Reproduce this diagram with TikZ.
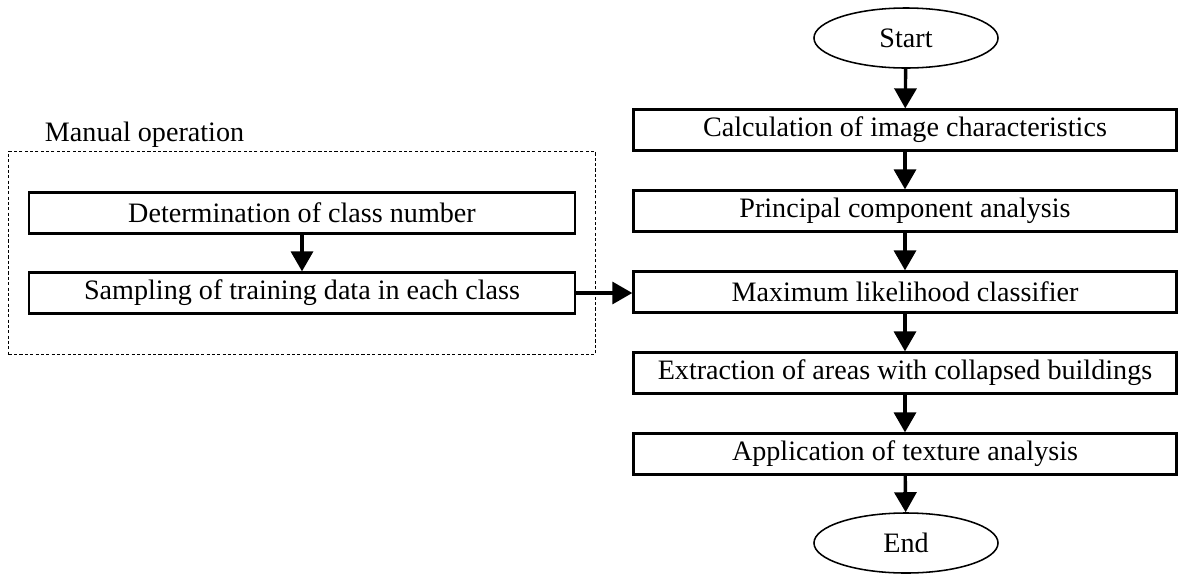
\documentclass[tikz,border=0pt]{standalone}
\usepackage{fontspec}
\setmainfont{Liberation Serif}
\usepackage{tikz}
\usetikzlibrary{positioning,arrows.meta,fit,shapes.geometric}
\tikzset{
  node-box/.style={draw=black,line width=1.6pt,minimum height=1.025cm,
    minimum width=13.575cm,inner sep=0pt,align=center},
  node-box-manual/.style={node-box,minimum width=13.65cm},
  node-term/.style={draw=black,ellipse,line width=1.1pt,
    minimum width=4.6cm,minimum height=1.5cm,inner sep=0pt},
  node-group/.style={draw=black,dashed,dash pattern=on 2.2pt off 1.6pt,
    line width=0.7pt,inner xsep=0.475cm,inner ysep=1cm},
  arrow/.style={-{Triangle[length=0.5cm,width=0.55cm]},line width=2.4pt},
}

\begin{document}
\begin{tikzpicture}[x=0.025cm,y=-0.025cm,
    every node/.style={font=\fontsize{20}{24}\selectfont}]
  \useasboundingbox (0,0) rectangle (1180,574);
  % main flow
  \node[node-term] (start) at (906,38) {Start};
  \node[node-box] (calc) at (905,130) {Calculation of image characteristics};
  \node[node-box] (pca) at (905,211) {Principal component analysis};
  \node[node-box] (mlc) at (905,292) {Maximum likelihood classifier};
  \node[node-box] (extract) at (905,373) {Extraction of areas with collapsed buildings};
  \node[node-box] (texture) at (905,454) {Application of texture analysis};
  \node[node-term] (end) at (906,543) {End};
  \foreach \a/\b in {start/calc,calc/pca,pca/mlc,mlc/extract,extract/texture,texture/end}
    \draw[arrow] (\a) -- (\b);
  % manual part
  \node[node-box-manual] (classnum) at (302,213) {Determination of class number};
  \node[node-box-manual] (sampling) at (302,293) {Sampling of training data in each class};
  \node[node-group,fit=(classnum)(sampling)] (manual) {};
  \node[anchor=base west] (manual-lbl) at (40,141) {Manual operation};
  \draw[arrow] (classnum) -- (sampling);
  \draw[arrow] (sampling.east) -- (sampling.east -| mlc.west);
\end{tikzpicture}
\end{document}
